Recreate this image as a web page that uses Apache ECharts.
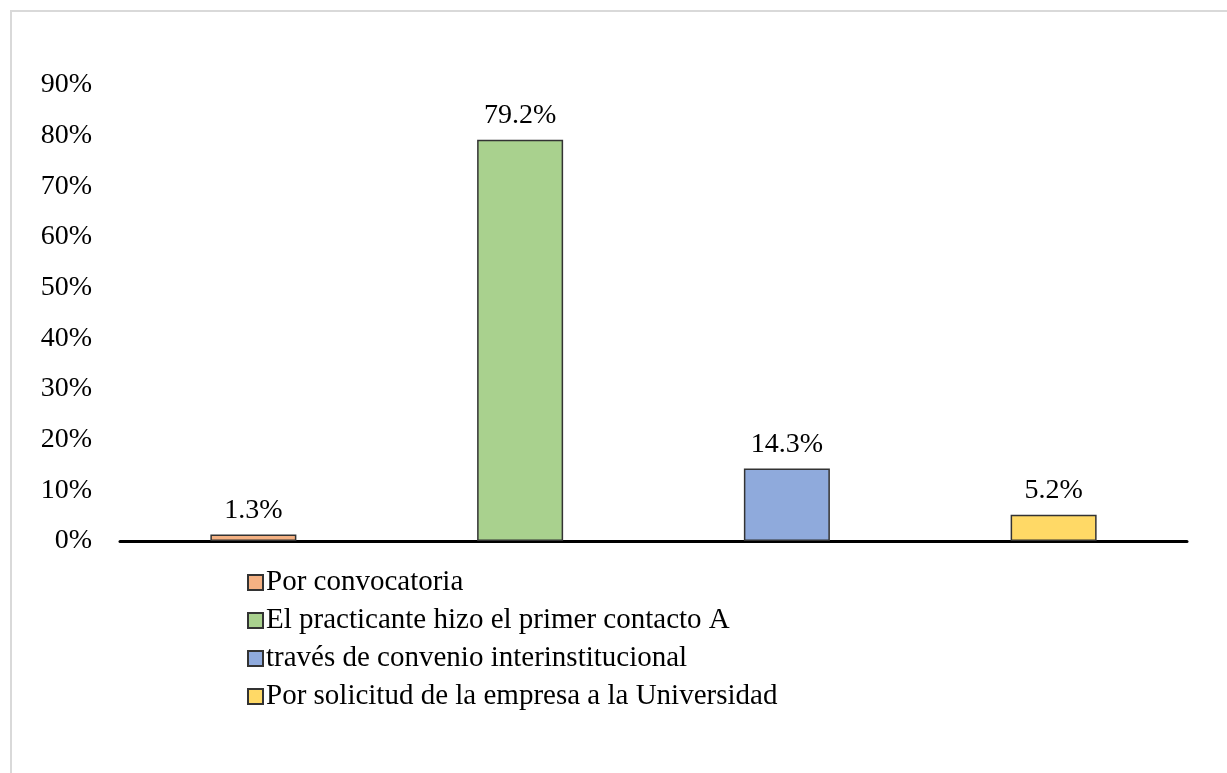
<!DOCTYPE html>
<html>
<head>
<meta charset="utf-8">
<script src="https://cdn.jsdelivr.net/npm/echarts@6/dist/echarts.min.js"></script>
<style>
  html, body { margin: 0; padding: 0; background: #fff; }
  #chart { width: 1227px; height: 773px; }
</style>
</head>
<body>
<div id="chart"></div>
<script>
// datos del gráfico
var categories = [
  'Por convocatoria',
  'El practicante hizo el primer contacto A',
  'través de convenio interinstitucional',
  'Por solicitud de la empresa a la Universidad'
];
var values = [1.3, 79.2, 14.3, 5.2];
var yTicks = [0, 10, 20, 30, 40, 50, 60, 70, 80, 90];

var colors = ['#F4B183', '#A9D18E', '#8FAADC', '#FFD966'];
var font = '"Liberation Serif", "Times New Roman", serif';

var dom = document.getElementById('chart');
var myChart = echarts.init(dom);

// una serie por categoría, todas en la misma posición de su casilla
var series = categories.map(function (name, i) {
  var d = values.map(function (v, j) { return j === i ? v : null; });
  return {
    name: name,
    type: 'bar',
    data: d,
    barWidth: 86,
    barGap: '-100%',
    itemStyle: {
      color: colors[i],
      borderColor: '#333',
      borderWidth: 1.5
    },
    label: {
      show: true,
      position: 'top',
      distance: 10,
      color: '#000',
      fontFamily: font,
      fontSize: 28,
      formatter: function (p) { return p.value.toFixed(1) + '%'; }
    }
  };
});

var option = {
  animation: false,
  backgroundColor: '#fff',
  color: colors,
  graphic: [{
    type: 'rect',
    shape: { x: 11, y: 11, width: 1240, height: 800 },
    style: { fill: 'none', stroke: '#d9d9d9', lineWidth: 2 },
    silent: true
  }],
  grid: { left: 120, right: 40, top: 85, bottom: 232, containLabel: false },
  legend: {
    orient: 'vertical',
    left: 242,
    top: 563,
    itemWidth: 15,
    itemHeight: 15,
    itemGap: 9,
    icon: 'rect',
    textStyle: { fontFamily: font, fontSize: 29, color: '#000', padding: [0, 0, 0, -2] },
    data: categories
  },
  xAxis: {
    type: 'category',
    data: categories,
    axisLine: { lineStyle: { color: '#000', width: 3 } },
    axisTick: { show: false },
    axisLabel: { show: false },
    splitLine: { show: false }
  },
  yAxis: {
    type: 'value',
    min: yTicks[0],
    max: yTicks[yTicks.length - 1],
    interval: 10,
    axisLine: { show: false },
    axisTick: { show: false },
    splitLine: { show: false },
    axisLabel: {
      margin: 28,
      color: '#000',
      fontFamily: font,
      fontSize: 28,
      formatter: '{value}%'
    }
  },
  series: series
};

myChart.setOption(option, true);
</script>
</body>
</html>
